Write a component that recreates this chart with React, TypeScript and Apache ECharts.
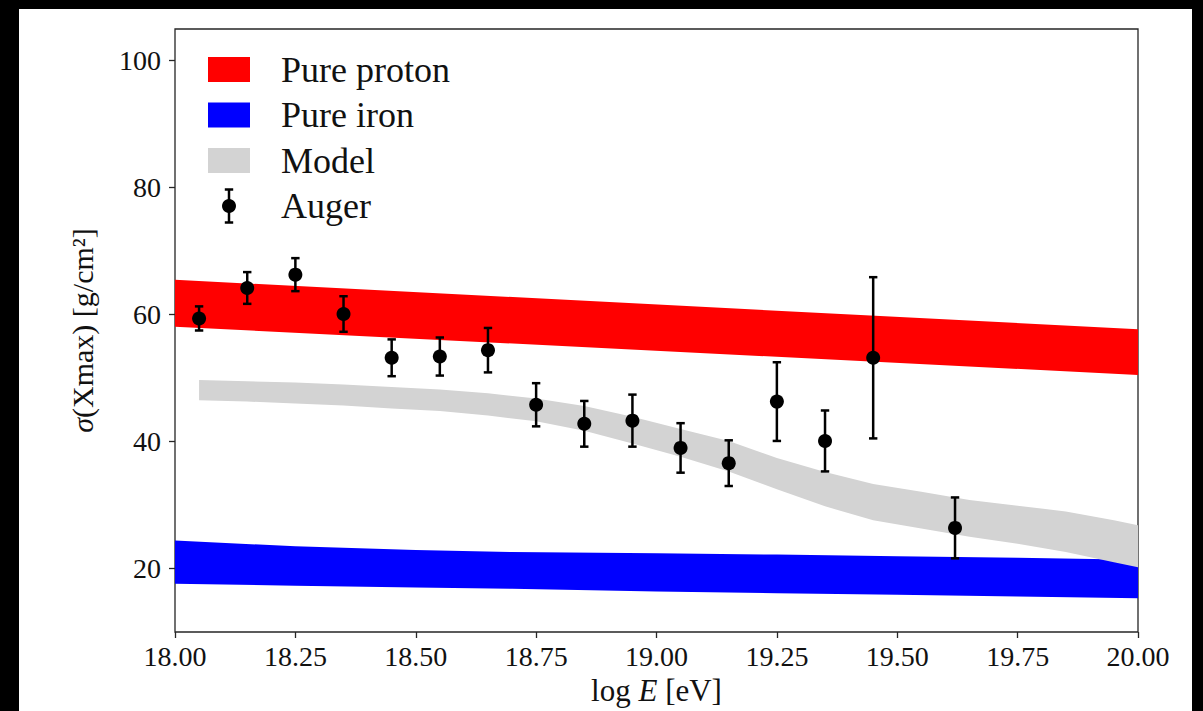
import React, { useEffect, useRef } from "react";
import * as echarts from "echarts";

// ---- tick labels ----
const xTicks = [18.0, 18.25, 18.5, 18.75, 19.0, 19.25, 19.5, 19.75, 20.0];
const yTicks = [20, 40, 60, 80, 100];

// ---- Auger data (log E, sigma(Xmax), error) ----
const augerX = [18.05, 18.15, 18.25, 18.35, 18.45, 18.55, 18.65, 18.75, 18.85, 18.95, 19.05, 19.15, 19.25, 19.35, 19.45, 19.62];
const augerY = [59.4, 64.2, 66.3, 60.1, 53.2, 53.4, 54.4, 45.8, 42.8, 43.3, 39.0, 36.6, 46.3, 40.1, 53.2, 26.4];
const augerErr = [1.9, 2.5, 2.6, 2.8, 2.9, 3.0, 3.5, 3.4, 3.6, 4.1, 3.9, 3.6, 6.2, 4.8, 12.7, 4.8];

// ---- Pure proton band ----
const protonX = [18.0, 20.0];
const protonLow = [58.1, 50.5];
const protonHigh = [65.5, 57.7];

// ---- Pure iron band ----
const ironX = [18.0, 18.25, 18.5, 18.7, 19.0, 19.25, 19.5, 19.75, 20.0];
const ironLow = [17.6, 17.3, 17.0, 16.8, 16.4, 16.1, 15.85, 15.6, 15.3];
const ironHigh = [24.4, 23.5, 22.9, 22.6, 22.4, 22.2, 21.95, 21.7, 21.4];

// ---- Model band ----
const modelX = [18.05, 18.15, 18.25, 18.35, 18.45, 18.55, 18.65, 18.75, 18.85, 18.95, 19.05, 19.15, 19.25, 19.35, 19.45, 19.55, 19.65, 19.75, 19.85, 19.95, 20.0];
const modelLow = [46.5, 46.3, 46.0, 45.7, 45.2, 44.8, 44.1, 43.2, 41.7, 39.7, 37.6, 35.3, 32.5, 29.8, 27.6, 26.3, 25.0, 23.9, 22.6, 21.0, 20.2];
const modelHigh = [49.7, 49.5, 49.3, 49.0, 48.6, 48.2, 47.6, 46.8, 45.6, 43.9, 42.0, 40.1, 37.4, 35.2, 33.3, 32.1, 30.8, 29.9, 29.0, 27.6, 26.8];

const legendNames = ["Pure proton", "Pure iron", "Model", "Auger"];
const FONT = "Liberation Serif";

function bandSeries(name: string, xs: number[], lo: number[], hi: number[], color: string, z: number) {
  return {
    type: "custom",
    name,
    z,
    silent: true,
    clip: true,
    data: xs.map((x, i) => [x, lo[i], hi[i]]),
    encode: { x: 0, y: [1, 2] },
    renderItem: (params: any, api: any) => {
      if (params.dataIndex !== 0) return null;
      const pts: number[][] = [];
      for (let i = 0; i < xs.length; i++) pts.push(api.coord([xs[i], hi[i]]));
      for (let i = xs.length - 1; i >= 0; i--) pts.push(api.coord([xs[i], lo[i]]));
      return { type: "polygon", shape: { points: pts }, style: { fill: color } };
    },
  };
}

export default function App() {
  const ref = useRef<HTMLDivElement>(null);

  useEffect(() => {
    if (!ref.current) return;
    const chart = echarts.init(ref.current, undefined, { renderer: "svg" });
    const lineStyle = { stroke: "#000", lineWidth: 2.5 };
    const option: any = {
      animation: false,
      backgroundColor: "transparent",
      textStyle: { fontFamily: FONT },
      grid: {
        left: 175,
        top: 29,
        right: 65,
        bottom: 79,
        show: true,
        borderColor: "#262626",
        borderWidth: 1.3,
        backgroundColor: "transparent",
      },
      xAxis: {
        type: "value",
        min: 18,
        max: 20,
        interval: 0.25,
        axisLine: { show: false },
        splitLine: { show: false },
        axisTick: { show: true, length: 6, lineStyle: { color: "#262626", width: 1.3 } },
        axisLabel: {
          margin: 10,
          fontFamily: FONT,
          fontSize: 28,
          color: "#111",
          customValues: xTicks,
          formatter: (v: number) => v.toFixed(2),
        },
        name: "{a|log }{b|E}{a| [eV]}",
        nameLocation: "middle",
        nameGap: 42,
        nameTextStyle: {
          fontFamily: FONT,
          rich: {
            a: { fontFamily: FONT, fontSize: 31, color: "#111" },
            b: { fontFamily: FONT, fontSize: 31, fontStyle: "italic", color: "#111" },
          },
        },
      },
      yAxis: {
        type: "value",
        min: 10,
        max: 105,
        axisLine: { show: false },
        splitLine: { show: false },
        axisTick: { show: true, length: 6, customValues: yTicks, lineStyle: { color: "#262626", width: 1.3 } },
        axisLabel: {
          margin: 14,
          fontFamily: FONT,
          fontSize: 28,
          color: "#111",
          customValues: yTicks,
        },
        name: "{b|σ}{a|(Xmax) [g/cm²]}",
        nameLocation: "middle",
        nameRotate: 90,
        nameGap: 78,
        nameTextStyle: {
          fontFamily: FONT,
          rich: {
            a: { fontFamily: FONT, fontSize: 30, color: "#111" },
            b: { fontFamily: FONT, fontSize: 30, fontStyle: "italic", color: "#111" },
          },
        },
      },
      series: [
        bandSeries(legendNames[0], protonX, protonLow, protonHigh, "#ff0000", 2),
        bandSeries(legendNames[1], ironX, ironLow, ironHigh, "#0000ff", 3),
        bandSeries(legendNames[2], modelX, modelLow, modelHigh, "#d3d3d3", 4),
        {
          type: "custom",
          name: legendNames[3] + " errors",
          z: 5,
          silent: true,
          data: augerX.map((x, i) => [x, augerY[i], augerErr[i]]),
          encode: { x: 0, y: 1 },
          renderItem: (params: any, api: any) => {
            const x = api.value(0);
            const y = api.value(1);
            const e = api.value(2);
            const t = api.coord([x, y + e]);
            const b = api.coord([x, y - e]);
            const cw = 4.2;
            return {
              type: "group",
              children: [
                { type: "line", shape: { x1: t[0], y1: t[1], x2: b[0], y2: b[1] }, style: lineStyle },
                { type: "line", shape: { x1: t[0] - cw, y1: t[1], x2: t[0] + cw, y2: t[1] }, style: lineStyle },
                { type: "line", shape: { x1: b[0] - cw, y1: b[1], x2: b[0] + cw, y2: b[1] }, style: lineStyle },
              ],
            };
          },
        },
        {
          type: "scatter",
          name: legendNames[3],
          z: 6,
          symbol: "circle",
          symbolSize: 14,
          itemStyle: { color: "#000", opacity: 1 },
          data: augerX.map((x, i) => [x, augerY[i]]),
        },
      ],
      graphic: [
        { type: "rect", shape: { x: 208, y: 57, width: 42, height: 25 }, style: { fill: "#ff0000" } },
        { type: "rect", shape: { x: 208, y: 102.5, width: 42, height: 25 }, style: { fill: "#0000ff" } },
        { type: "rect", shape: { x: 208, y: 148, width: 42, height: 25 }, style: { fill: "#d3d3d3" } },
        { type: "line", shape: { x1: 229, y1: 189.5, x2: 229, y2: 222.5 }, style: lineStyle },
        { type: "line", shape: { x1: 224.8, y1: 189.5, x2: 233.2, y2: 189.5 }, style: lineStyle },
        { type: "line", shape: { x1: 224.8, y1: 222.5, x2: 233.2, y2: 222.5 }, style: lineStyle },
        { type: "circle", shape: { cx: 229, cy: 206, r: 7 }, style: { fill: "#000" } },
        ...legendNames.map((n, i) => ({
          type: "text",
          x: 281,
          y: [70, 115, 161, 206][i],
          style: {
            text: n,
            fontFamily: FONT,
            fontSize: 36,
            fill: "#111",
            textAlign: "left",
            textVerticalAlign: "middle",
          },
        })),
      ],
    };
    chart.setOption(option);
    return () => chart.dispose();
  }, []);

  return (
    <div style={{ position: "fixed", left: 0, top: 0, width: 1203, height: 711, background: "#000", overflow: "hidden" }}>
      <div style={{ position: "absolute", left: 19, top: 9, width: 1173, height: 702, background: "#fff" }} />
      <div ref={ref} style={{ position: "absolute", left: 0, top: 0, width: 1203, height: 711 }} />
    </div>
  );
}
